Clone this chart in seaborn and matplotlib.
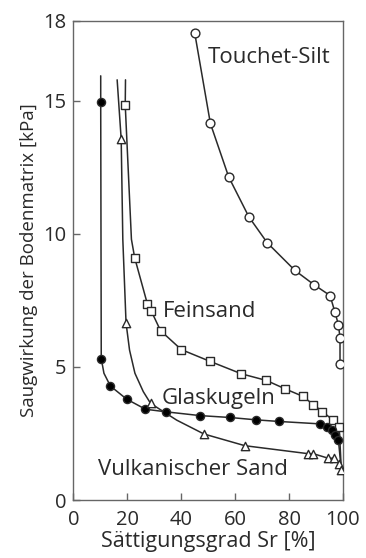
import matplotlib
matplotlib.use("Agg")
import matplotlib.pyplot as plt
import seaborn as sns
import pandas as pd

# ---- data ----
# Touchet-Silt (open circles)
ts_x = [45.0, 50.8, 57.6, 65.1, 71.9, 82.2, 89.2, 95.2, 97.0, 98.3, 98.9, 98.9]
ts_y = [17.53, 14.14, 12.13, 10.63, 9.66, 8.62, 8.09, 7.68, 7.06, 6.59, 6.09, 5.11]

# Feinsand (open squares)
fs_x = [19.2, 22.7, 27.4, 28.9, 32.3, 40.0, 50.6, 62.3, 71.6, 78.4, 85.2, 89.0, 92.4, 96.4, 98.6]
fs_y = [14.84, 9.10, 7.37, 7.09, 6.36, 5.65, 5.21, 4.74, 4.49, 4.18, 3.89, 3.58, 3.32, 2.99, 2.74]
# additional traced points of the Feinsand curve (start, bend, end)
fs_curve_x = [19.3] + fs_x[:1] + [21.5] + fs_x[1:] + [99.4]
fs_curve_y = [15.78] + fs_y[:1] + [9.79] + fs_y[1:] + [1.10]

# Glaskugeln (filled circles)
gk_x = [10.1, 10.3, 13.7, 19.7, 26.7, 34.5, 47.0, 58.0, 67.9, 76.3, 91.4, 93.9, 95.8, 97.0, 98.3]
gk_y = [14.93, 5.31, 4.28, 3.79, 3.41, 3.31, 3.17, 3.10, 3.01, 2.95, 2.86, 2.76, 2.63, 2.45, 2.26]
gk_curve_x = [10.1] + gk_x[:2] + [11.3] + gk_x[2:] + [99.4]
gk_curve_y = [15.93] + gk_y[:2] + [4.76] + gk_y[2:] + [1.10]

# Vulkanischer Sand (open triangles)
vs_x = [17.7, 19.5, 28.6, 48.4, 63.6, 87.1, 89.0, 94.5, 96.8, 98.6, 99.3]
vs_y = [13.55, 6.65, 3.63, 2.48, 2.04, 1.74, 1.74, 1.57, 1.57, 1.35, 1.12]
vs_curve_x = [16.2, 17.7, 18.3, 19.5, 20.8, 22.8, 25.9, 28.6, 38.3] + vs_x[3:]
vs_curve_y = [15.78, 13.55, 9.79, 6.65, 5.63, 4.76, 4.07, 3.63, 3.00] + vs_y[3:]

labels = ["Touchet-Silt", "Feinsand", "Glaskugeln", "Vulkanischer Sand"]
label_x = [49.9, 33.2, 32.7, 9.2]
label_y = [16.41, 6.88, 3.60, 0.94]

x_ticks = [0, 20, 40, 60, 80, 100]
y_ticks = [0, 5, 10, 15, 18]
x_label = "Sättigungsgrad Sr [%]"
y_label = "Saugwirkung der Bodenmatrix [kPa]"

# ---- drawing ----
sns.set_theme(style="ticks")
plt.rcParams["font.family"] = ["Open Sans", "DejaVu Sans"]

fig = plt.figure(figsize=(3.66, 5.58), dpi=100)
ax = fig.add_axes([0.2008, 0.1039, 0.7363, 0.859])

line_col = "#2a2a2a"
text_col = "#2a2a2a"
lw = 1.1

curves = [
    (ts_x, ts_y),
    (fs_curve_x, fs_curve_y),
    (gk_curve_x, gk_curve_y),
    (vs_curve_x, vs_curve_y),
]
for cx, cy in curves:
    df = pd.DataFrame({"x": cx, "y": cy})
    sns.lineplot(data=df, x="x", y="y", sort=False, estimator=None,
                 color=line_col, lw=lw, ax=ax)

markers = [
    (ts_x, ts_y, "o", "white", 40),
    (fs_x, fs_y, "s", "white", 30),
    (gk_x, gk_y, "o", "black", 34),
    (vs_x, vs_y, "^", "white", 36),
]
for mx, my, m, fc, s in markers:
    df = pd.DataFrame({"x": mx, "y": my})
    sns.scatterplot(data=df, x="x", y="y", marker=m, s=s, facecolor=fc,
                    edgecolor=line_col, linewidth=1.0, ax=ax, zorder=3)

for t, lx, ly in zip(labels, label_x, label_y):
    ax.text(lx, ly, t, ha="left", va="baseline", fontsize=16, color=text_col)

ax.set_xlim(0, 100)
ax.set_ylim(0, 18)
ax.set_xticks(x_ticks)
ax.set_yticks(y_ticks)
ax.tick_params(direction="in", length=5, width=1, colors="#666666",
               labelcolor=text_col, labelsize=14.5)
ax.tick_params(axis="x", pad=7)
ax.tick_params(axis="y", pad=5)
for sp in ax.spines.values():
    sp.set_color("#666666")
    sp.set_linewidth(1.0)
ax.set_xlabel(x_label, fontsize=15.5, color=text_col, labelpad=1)
ax.set_ylabel(y_label, fontsize=13.5, color=text_col, labelpad=4)

fig.savefig("out.png", dpi=100)
